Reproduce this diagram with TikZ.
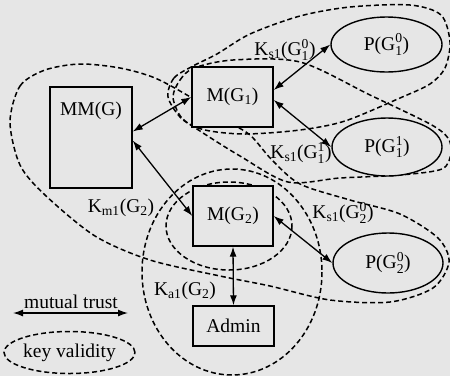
\documentclass[tikz,border=0pt]{standalone}
\usepackage{amsmath}
\usepackage{fontspec}
\setmainfont{Liberation Serif}
\usetikzlibrary{shapes.geometric,arrows.meta}
\definecolor{bgc}{RGB}{230,230,230}
\newcommand{\gsb}[2]{$_{\text{#1}}^{\text{#2}}$}
\tikzset{
  every node/.style={font=\fontsize{19.5}{21}\selectfont},
  box/.style={draw, line width=1.4pt, fill=bgc, inner sep=0pt},
  oval/.style={draw, ellipse, line width=1.4pt, fill=bgc, inner sep=0pt},
  keyline/.style={line width=1.5pt, dash pattern=on 5pt off 3pt},
  trust/.style={{Latex[length=10pt,width=7pt]}-{Latex[length=10pt,width=7pt]}, line width=1.3pt}
}
\begin{document}
\begin{tikzpicture}[x=1pt,y=-1pt]
    \useasboundingbox (0,0) rectangle (450,376);
    \fill[bgc] (0,0) rectangle (450,376);
    % key validity
    \draw[keyline] plot[smooth cycle] coordinates {(168,97) (174,78) (193,66) (217,54) (250,34) (300,16) (350,7) (410,5) (441,15) (450,42) (445,68) (430,84) (400,98) (345,121) (300,130) (245,134) (205,130) (182,119)};
    \draw[keyline] plot[smooth cycle] coordinates {(173,97) (180,80) (194,68) (233,60) (300,62) (370,95) (430,124) (448,138) (451,153) (442,169) (400,175) (340,178) (288,182) (240,156) (200,131) (181,117)};
    \draw[keyline] plot[smooth cycle] coordinates {(10,122) (20,86) (45,70) (80,64) (120,68) (155,78) (192,98) (225,120) (250,135) (272,160) (300,184) (350,200) (400,214) (438,238) (449,262) (433,288) (390,302) (330,300) (270,286) (220,276) (150,260) (95,236) (45,195) (20,165)};
    \draw[keyline] (229,226) ellipse [x radius=63, y radius=44];
    \draw[keyline] (232,272) ellipse [x radius=90, y radius=103];
    % entities
    \node[box, minimum width=82pt, minimum height=101pt] (mmg) at (91,137.5) {};
    \node (mmglab) at (91,111) {MM(G)};
    \node[box, minimum width=81pt, minimum height=60pt] (mg1) at (232.5,97) {M(G$_{\text{1}}$)};
    \node[box, minimum width=80pt, minimum height=60pt] (mg2) at (233,216) {M(G$_{\text{2}}$)};
    \node[box, minimum width=81pt, minimum height=40pt] (admin) at (233.5,326) {Admin};
    \node[oval, minimum width=111pt, minimum height=55pt] (pg10) at (386.5,44.5) {P(G\gsb{1}{0})};
    \node[oval, minimum width=110pt, minimum height=58pt] (pg11) at (387,147) {P(G\gsb{1}{1})};
    \node[oval, minimum width=110pt, minimum height=60pt] (pg20) at (388,263) {P(G\gsb{2}{0})};
    % keys
    \node (ks10) at (285,50) {K$_{\text{s1}}$(G\gsb{1}{0})};
    \node (ks11) at (301,153) {K$_{\text{s1}}$(G\gsb{1}{1})};
    \node (km1) at (121,208) {K$_{\text{m1}}$(G$_{\text{2}}$)};
    \node (ka1) at (185,291) {K$_{\text{a1}}$(G$_{\text{2}}$)};
    \node (ks20) at (343,213) {K$_{\text{s1}}$(G\gsb{2}{0})};
    % mutual trust
    \draw[trust] (mg1.west) -- ([yshift=6pt]mmg.east);
    \draw[trust] (mg2.west) -- ([yshift=-3pt]mmg.east);
    \draw[trust] ([yshift=7pt]mg1.east) -- (pg10.west);
    \draw[trust] ([yshift=-3pt]mg1.east) -- (pg11.west);
    \draw[trust] (mg2.east) -- (pg20.west);
    \draw[trust] (mg2.south) -- (admin.north);
    % legend
    \node (mtlab) at (71,302) {mutual trust};
    \coordinate (mtl) at (13,313);
    \coordinate (mtr) at (128,313);
    \draw[trust] (mtl) -- (mtr);
    \node[keyline, draw, ellipse, minimum width=115pt, minimum height=42pt, inner sep=0pt] (kv) at (69.5,352.5) {key validity};
\end{tikzpicture}
\end{document}
